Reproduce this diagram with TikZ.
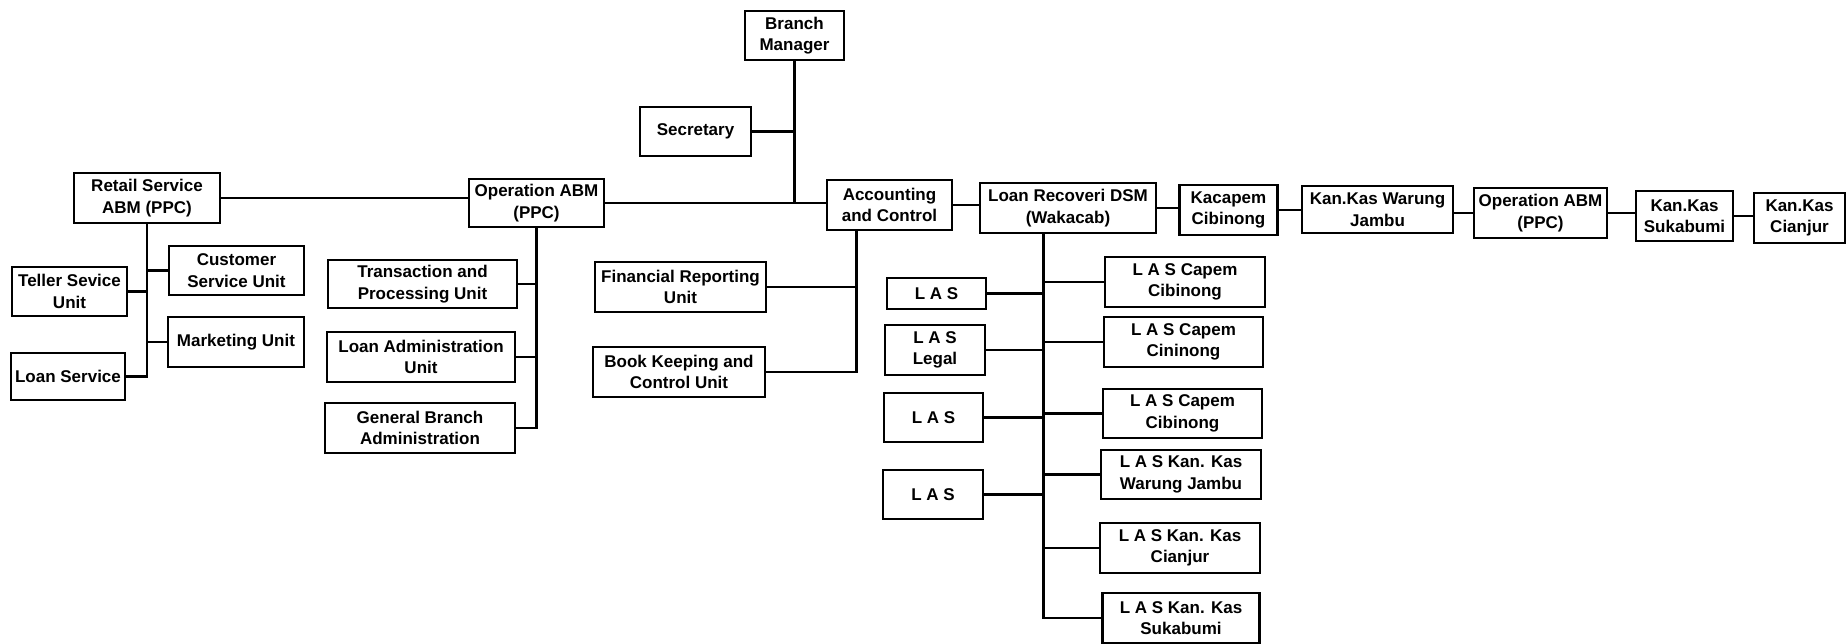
\documentclass[tikz,border=0pt]{standalone}
\usepackage{fontspec}
\setmainfont{Liberation Sans}

\tikzset{
  unit/.style={draw, line width=2.6pt, align=center, inner sep=0pt,
    font=\fontsize{17}{21.5}\selectfont\bfseries},
  link/.style={line width=2.6pt},
}

\begin{document}
\begin{tikzpicture}[x=1pt, y=-1pt]
  \useasboundingbox (0,0) rectangle (1846,643);

  \node[unit, minimum width=99, minimum height=49] (bm) at(794.5,35.5){Branch\\Manager};
  \node[unit, minimum width=111, minimum height=49] (sec) at(695.5,131.5){Secretary};
  \node[unit, minimum width=146, minimum height=50] (retail) at(147,198){Retail Service\\ABM (PPC)};
  \node[unit, minimum width=135, minimum height=48] (opl) at(536.5,203){Operation ABM\\(PPC)};
  \node[unit, minimum width=125, minimum height=50] (acct) at(889.5,205){Accounting\\and Control};
  \node[unit, minimum width=176, minimum height=50] (lr) at(1068,208){Loan Recoveri DSM\\(Wakacab)};
  \node[unit, minimum width=98, minimum height=50] (kcp) at(1228.5,210){Kacapem\\Cibinong};
  \node[unit, minimum width=151, minimum height=47] (kkwj) at(1377.5,209.5){Kan.Kas Warung\\Jambu};
  \node[unit, minimum width=133, minimum height=50] (opr) at(1540.5,213){Operation ABM\\(PPC)};
  \node[unit, minimum width=97, minimum height=50] (kksb) at(1684.5,216){Kan.Kas\\Sukabumi};
  \node[unit, minimum width=91, minimum height=50] (kkcj) at(1799.5,218){Kan.Kas\\Cianjur};

  \node[unit, minimum width=115, minimum height=49] (teller) at(69.5,291.5){Teller Sevice\\Unit};
  \node[unit, minimum width=135, minimum height=49] (cust) at(236.5,270.5){Customer\\Service Unit};
  \node[unit, minimum width=136, minimum height=50] (mkt) at(236,342){Marketing Unit};
  \node[unit, minimum width=114, minimum height=47] (loansrv) at(68,376.5){Loan Service};

  \node[unit, minimum width=189, minimum height=48] (trans) at(422.5,284){Transaction and\\Processing Unit};
  \node[unit, minimum width=188, minimum height=50] (loanadm) at(421,357){Loan Administration\\Unit};
  \node[unit, minimum width=190, minimum height=50] (genbr) at(420,428){General Branch\\Administration};

  \node[unit, minimum width=171, minimum height=50] (finrep) at(680.5,287){Financial Reporting\\Unit};
  \node[unit, minimum width=172, minimum height=50] (book) at(679,372){Book Keeping and\\Control Unit};

  \node[unit, minimum width=99, minimum height=31] (las1) at(936.5,293.5){L A S};
  \node[unit, minimum width=100, minimum height=50] (lasleg) at(935,350){L A S\\Legal};
  \node[unit, minimum width=99, minimum height=49] (las3) at(933.5,417.5){L A S};
  \node[unit, minimum width=100, minimum height=49] (las4) at(933,494.5){L A S};

  \node[unit, minimum width=160, minimum height=50] (lascc1) at(1185,282){L A S Capem\\Cibinong};
  \node[unit, minimum width=159, minimum height=50] (lascc2) at(1183.5,342){L A S Capem\\Cininong};
  \node[unit, minimum width=159, minimum height=49] (lascc3) at(1182.5,413.5){L A S Capem\\Cibinong};
  \node[unit, minimum width=160, minimum height=49] (laskkwj) at(1181,474.5){L A S Kan. Kas\\Warung Jambu};
  \node[unit, minimum width=160, minimum height=50] (laskkcj) at(1180,548){L A S Kan. Kas\\Cianjur};
  \node[unit, minimum width=157, minimum height=50] (laskksb) at(1181,618){L A S Kan. Kas\\Sukabumi};

  \coordinate (acctdrop) at ([xshift=31pt]acct.south west);
  \coordinate (lrdrop) at ([xshift=65pt]lr.south west);

  \draw[link] (bm.south) -- (bm.south |- opl.east);
  \draw[link] (sec.east) -- (sec.east -| bm.south);
  \draw[link] (retail.east) -- (retail.east -| opl.west);
  \draw[link] (opl.east) -- (opl.east -| acct.west);
  \draw[link] (acct.east) -- (acct.east -| lr.west);
  \draw[link] (lr.east) -- (lr.east -| kcp.west);
  \draw[link] (kcp.east) -- (kcp.east -| kkwj.west);
  \draw[link] (opr.west -| kkwj.east) -- (opr.west);
  \draw[link] (opr.east) -- (opr.east -| kksb.west);
  \draw[link] (kksb.east) -- (kksb.east -| kkcj.west);

  \draw[link] (retail.south) |- (loansrv.east);
  \draw[link] (retail.south) |- (teller.east);
  \draw[link] (retail.south) |- (cust.west);
  \draw[link] (retail.south) |- (mkt.west);

  \draw[link] (opl.south) |- (genbr.east);
  \draw[link] (opl.south) |- (trans.east);
  \draw[link] (opl.south) |- (loanadm.east);

  \draw[link] (acctdrop) |- (book.east);
  \draw[link] (finrep.east) -- (finrep.east -| acctdrop);

  \draw[link] (lrdrop) |- (laskksb.west);
  \draw[link] (lrdrop) |- (lascc1.west);
  \draw[link] (lrdrop) |- (lascc2.west);
  \draw[link] (lrdrop) |- (lascc3.west);
  \draw[link] (lrdrop) |- (laskkwj.west);
  \draw[link] (lrdrop) |- (laskkcj.west);
  \draw[link] (lrdrop) |- (las1.east);
  \draw[link] (lrdrop) |- (lasleg.east);
  \draw[link] (lrdrop) |- (las3.east);
  \draw[link] (lrdrop) |- (las4.east);
\end{tikzpicture}
\end{document}
